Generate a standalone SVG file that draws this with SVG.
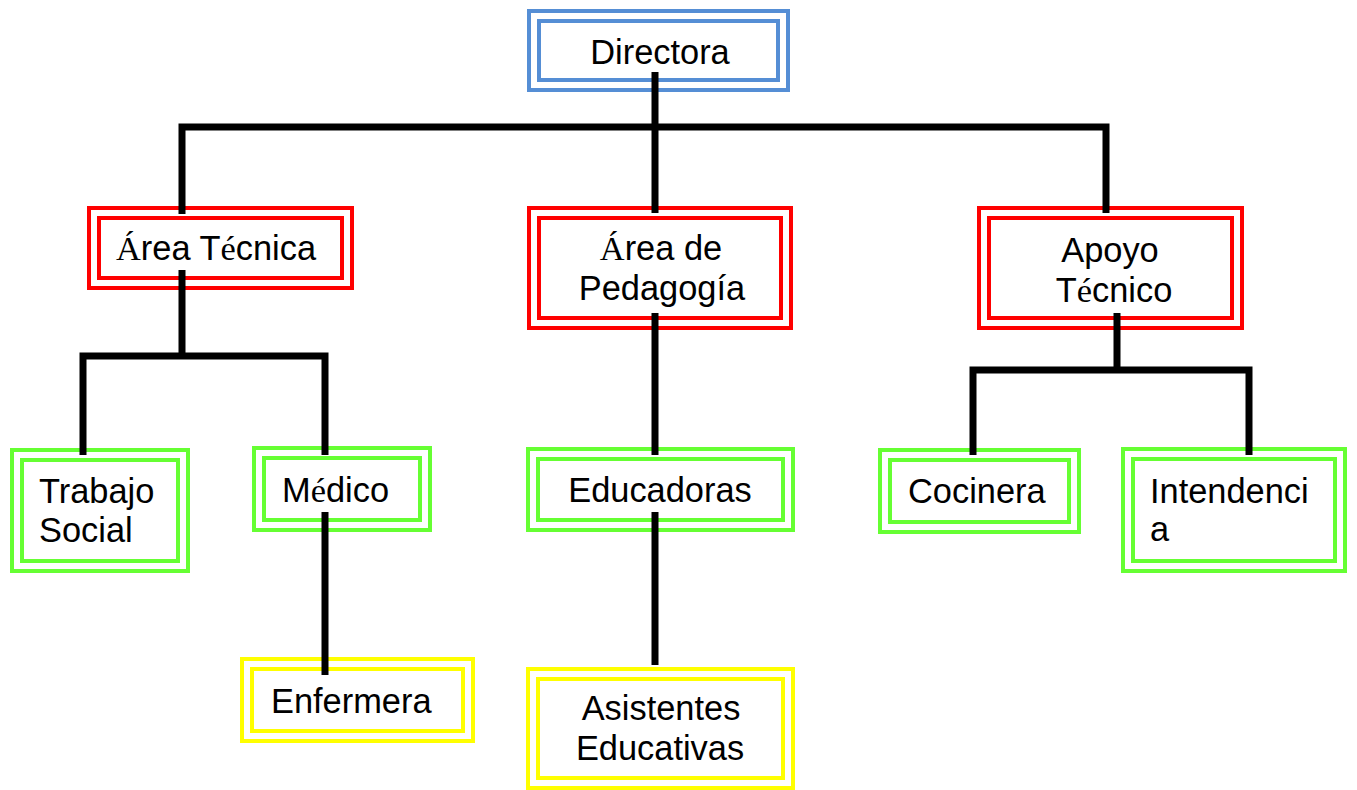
<svg xmlns="http://www.w3.org/2000/svg" width="1357" height="790" viewBox="0 0 1357 790">
<style>
.o{fill:none;stroke-width:4}
.i{fill:#fff;stroke-width:4}
.blue{stroke:#558ED5}
.red{stroke:#FF0000}
.green{stroke:#66FF33}
.yellow{stroke:#FFFF00}
text{font-family:"Liberation Sans",Arial,sans-serif;font-size:34.4px;fill:#000}
.s{font-family:"Liberation Serif","Times New Roman",serif}
.c{text-anchor:middle}
.con{fill:none;stroke:#000;stroke-width:7}
</style>
<rect width="1357" height="790" fill="#fff"/>
<g id="directora">
<rect class="o blue" x="529" y="11" width="259" height="79"/>
<rect class="i blue" x="539" y="21" width="239" height="59"/>
<text class="c" x="660" y="64">Directora</text>
</g>
<g id="area-tecnica">
<rect class="o red" x="89" y="208" width="263" height="80"/>
<rect class="i red" x="99" y="218" width="243" height="60"/>
<text x="116" y="260"><tspan class="s">Á</tspan>rea T<tspan class="s">é</tspan>cnica</text>
</g>
<g id="area-pedagogia">
<rect class="o red" x="529" y="208" width="262" height="120"/>
<rect class="i red" x="539" y="218" width="242" height="100"/>
<text class="c" x="661" y="260"><tspan class="s">Á</tspan>rea de</text>
<text class="c" x="662" y="300">Pedagogía</text>
</g>
<g id="apoyo-tecnico">
<rect class="o red" x="979" y="208" width="263" height="120"/>
<rect class="i red" x="989" y="218" width="243" height="100"/>
<text class="c" x="1110" y="262">Apoyo</text>
<text class="c" x="1114" y="302">T<tspan class="s">é</tspan>cnico</text>
</g>
<g id="trabajo-social">
<rect class="o green" x="12" y="450" width="176" height="121"/>
<rect class="i green" x="22" y="460" width="156" height="101"/>
<text x="39" y="503">Trabajo</text>
<text x="39" y="542">Social</text>
</g>
<g id="medico">
<rect class="o green" x="254" y="448" width="176" height="82"/>
<rect class="i green" x="264" y="458" width="156" height="62"/>
<text x="282" y="502">M<tspan class="s">é</tspan>dico</text>
</g>
<g id="enfermera">
<rect class="o yellow" x="242" y="659" width="231" height="82"/>
<rect class="i yellow" x="252" y="669" width="211" height="62"/>
<text x="271" y="713">Enfermera</text>
</g>
<g id="educadoras">
<rect class="o green" x="528" y="449" width="265" height="81"/>
<rect class="i green" x="538" y="459" width="245" height="61"/>
<text class="c" x="660" y="502">Educadoras</text>
</g>
<g id="asistentes">
<rect class="o yellow" x="528" y="669" width="265" height="119"/>
<rect class="i yellow" x="538" y="679" width="245" height="99"/>
<text class="c" x="661" y="720">Asistentes</text>
<text class="c" x="660" y="760">Educativas</text>
</g>
<g id="cocinera">
<rect class="o green" x="880" y="450" width="199" height="82"/>
<rect class="i green" x="890" y="460" width="179" height="62"/>
<text x="908" y="503">Cocinera</text>
</g>
<g id="intendencia">
<rect class="o green" x="1123" y="449" width="222" height="122"/>
<rect class="i green" x="1133" y="459" width="202" height="102"/>
<text x="1150" y="503">Intendenci</text>
<text x="1150" y="541">a</text>
</g>
<g id="connectors">
<path class="con" d="M655 72V213M182 214V127H1106V213"/>
<path class="con" d="M182 270V356M83 455V356H325V455"/>
<path class="con" d="M655 313V455"/>
<path class="con" d="M1117 313V370M973 455V370H1249V455"/>
<path class="con" d="M325 512V675"/>
<path class="con" d="M655 512V665"/>
</g>
</svg>
